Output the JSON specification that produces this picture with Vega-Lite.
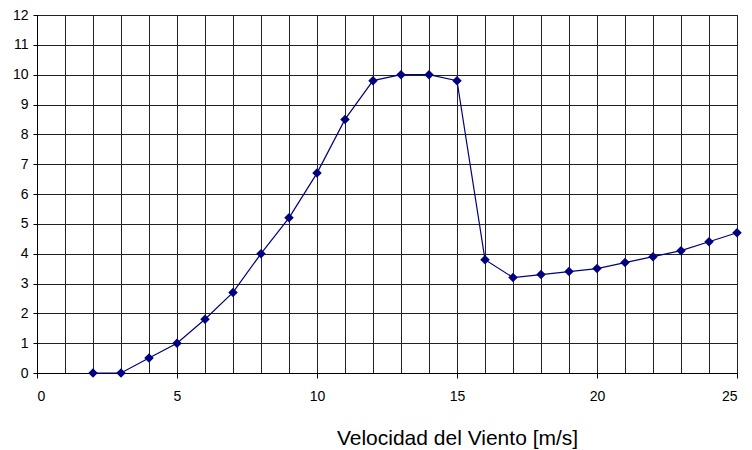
{
  "$schema": "https://vega.github.io/schema/vega-lite/v6.json",
  "width": 700,
  "height": 358,
  "autosize": {"type": "none"},
  "padding": {"left": 37, "top": 15, "right": 15, "bottom": 77},
  "background": "white",
  "config": {
    "view": {"stroke": "#000", "strokeWidth": 1},
    "font": "Liberation Sans"
  },
  "data": {
    "values": [
      {"v": 2, "p": 0}, {"v": 3, "p": 0}, {"v": 4, "p": 0.5}, {"v": 5, "p": 1.0},
      {"v": 6, "p": 1.8}, {"v": 7, "p": 2.7}, {"v": 8, "p": 4.0}, {"v": 9, "p": 5.2},
      {"v": 10, "p": 6.7}, {"v": 11, "p": 8.5}, {"v": 12, "p": 9.8}, {"v": 13, "p": 10.0},
      {"v": 14, "p": 10.0}, {"v": 15, "p": 9.8}, {"v": 16, "p": 3.8}, {"v": 17, "p": 3.2},
      {"v": 18, "p": 3.3}, {"v": 19, "p": 3.4}, {"v": 20, "p": 3.5}, {"v": 21, "p": 3.7},
      {"v": 22, "p": 3.9}, {"v": 23, "p": 4.1}, {"v": 24, "p": 4.4}, {"v": 25, "p": 4.7}
    ]
  },
  "encoding": {
    "x": {
      "field": "v", "type": "quantitative",
      "scale": {"domain": [0, 25], "nice": false, "zero": false},
      "axis": {
        "values": [0,1,2,3,4,5,6,7,8,9,10,11,12,13,14,15,16,17,18,19,20,21,22,23,24,25],
        "labelExpr": "datum.value % 5 === 0 ? datum.label : ''",
        "tickOpacity": {"expr": "datum.value % 5 === 0 ? 1 : 0"},
        "tickColor": "#000", "tickSize": 5,
        "grid": true, "gridColor": "#222", "gridWidth": 1,
        "domainColor": "#000",
        "labelFontSize": 14, "labelColor": "#000", "labelPadding": 11,
        "title": "Velocidad del Viento [m/s]",
        "titleFontSize": 21, "titleFontWeight": "normal", "titleColor": "#000",
        "titleX": 420, "titleY": 71, "titleAlign": "center", "titleBaseline": "alphabetic"
      }
    },
    "y": {
      "field": "p", "type": "quantitative",
      "scale": {"domain": [0, 12], "nice": false},
      "axis": {
        "values": [0,1,2,3,4,5,6,7,8,9,10,11,12],
        "grid": true, "gridColor": "#222", "gridWidth": 1,
        "tickColor": "#000", "tickSize": 4,
        "domainColor": "#000",
        "labelFontSize": 14, "labelColor": "#000", "labelPadding": 5,
        "title": null
      }
    }
  },
  "layer": [
    {"mark": {"type": "line", "color": "#000080", "strokeWidth": 1.2}},
    {"mark": {"type": "point", "shape": "diamond", "filled": true, "color": "#000080", "opacity": 1, "size": 90}}
  ]
}
